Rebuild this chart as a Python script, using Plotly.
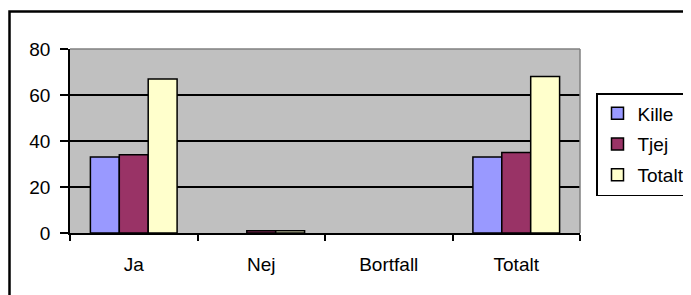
import plotly.graph_objects as go

categories = ["Ja", "Nej", "Bortfall", "Totalt"]
kille = [33, 0, 0, 33]
tjej = [34, 1, 0, 35]
totalt = [67, 1, 0, 68]
series_names = ["Kille", "Tjej", "Totalt"]
series_colors = ["#9999FF", "#993366", "#FFFFCC"]
y_ticks = [0, 20, 40, 60, 80]

OFF = 8  # page body margin
W, H = 691, 295
L, T = 70 - OFF, 49 - OFF
pw, ph = 510, 184
R, B = W - L - pw, H - T - ph

def px_x(p):
    return (p - OFF - L) / pw

def px_y(p):
    return (T + ph - (p - OFF)) / ph

FONT = "Liberation Sans, Arial, sans-serif"

fig = go.Figure()
for name, vals, col in zip(series_names, [kille, tjej, totalt], series_colors):
    fig.add_trace(go.Bar(
        x=categories, y=vals, name=name, legendgroup=name,
        marker=dict(color=col,
                    line=dict(color="black", width=[1.5 if v else 0 for v in vals])),
    ))

fig.update_layout(
    width=W, height=H,
    margin=dict(l=L, r=R, t=T, b=B, pad=0, autoexpand=False),
    paper_bgcolor="white",
    plot_bgcolor="#C0C0C0",
    barmode="group", bargap=0.32, bargroupgap=0,
    font=dict(family=FONT, size=19, color="black"),
    showlegend=True,
    legend=dict(
        x=px_x(596), y=px_y(93), xanchor="left", yanchor="top",
        bordercolor="black", borderwidth=1.5, bgcolor="white",
        font=dict(family=FONT, size=19, color="black"),
        traceorder="grouped", tracegroupgap=3,
        itemclick=False, itemwidth=30,
    ),
    xaxis=dict(
        showline=True, linecolor="black", linewidth=1.5,
        ticks="outside", tickson="boundaries", ticklen=6, tickcolor="black", tickwidth=1.5,
        showgrid=False, ticklabelstandoff=13,
    ),
    yaxis=dict(
        range=[0, 80], tickvals=y_ticks, ticktext=[str(v) for v in y_ticks],
        showline=True, linecolor="black", linewidth=1.5,
        ticks="outside", ticklen=8, tickcolor="black", tickwidth=1.5,
        showgrid=True, gridcolor="black", gridwidth=1.5,
        zeroline=False, ticklabelstandoff=6,
    ),
    shapes=[
        dict(type="line", xref="paper", yref="paper", x0=0, x1=1, y0=1, y1=1,
             line=dict(color="#808080", width=1.5)),
        dict(type="line", xref="paper", yref="paper", x0=1, x1=1, y0=0, y1=1,
             line=dict(color="#808080", width=1.5)),
        dict(type="rect", xref="paper", yref="paper",
             x0=px_x(9.5), x1=px_x(720), y0=px_y(11.5), y1=px_y(330),
             line=dict(color="black", width=2.5)),
    ],
)

fig.write_html("out.html")
